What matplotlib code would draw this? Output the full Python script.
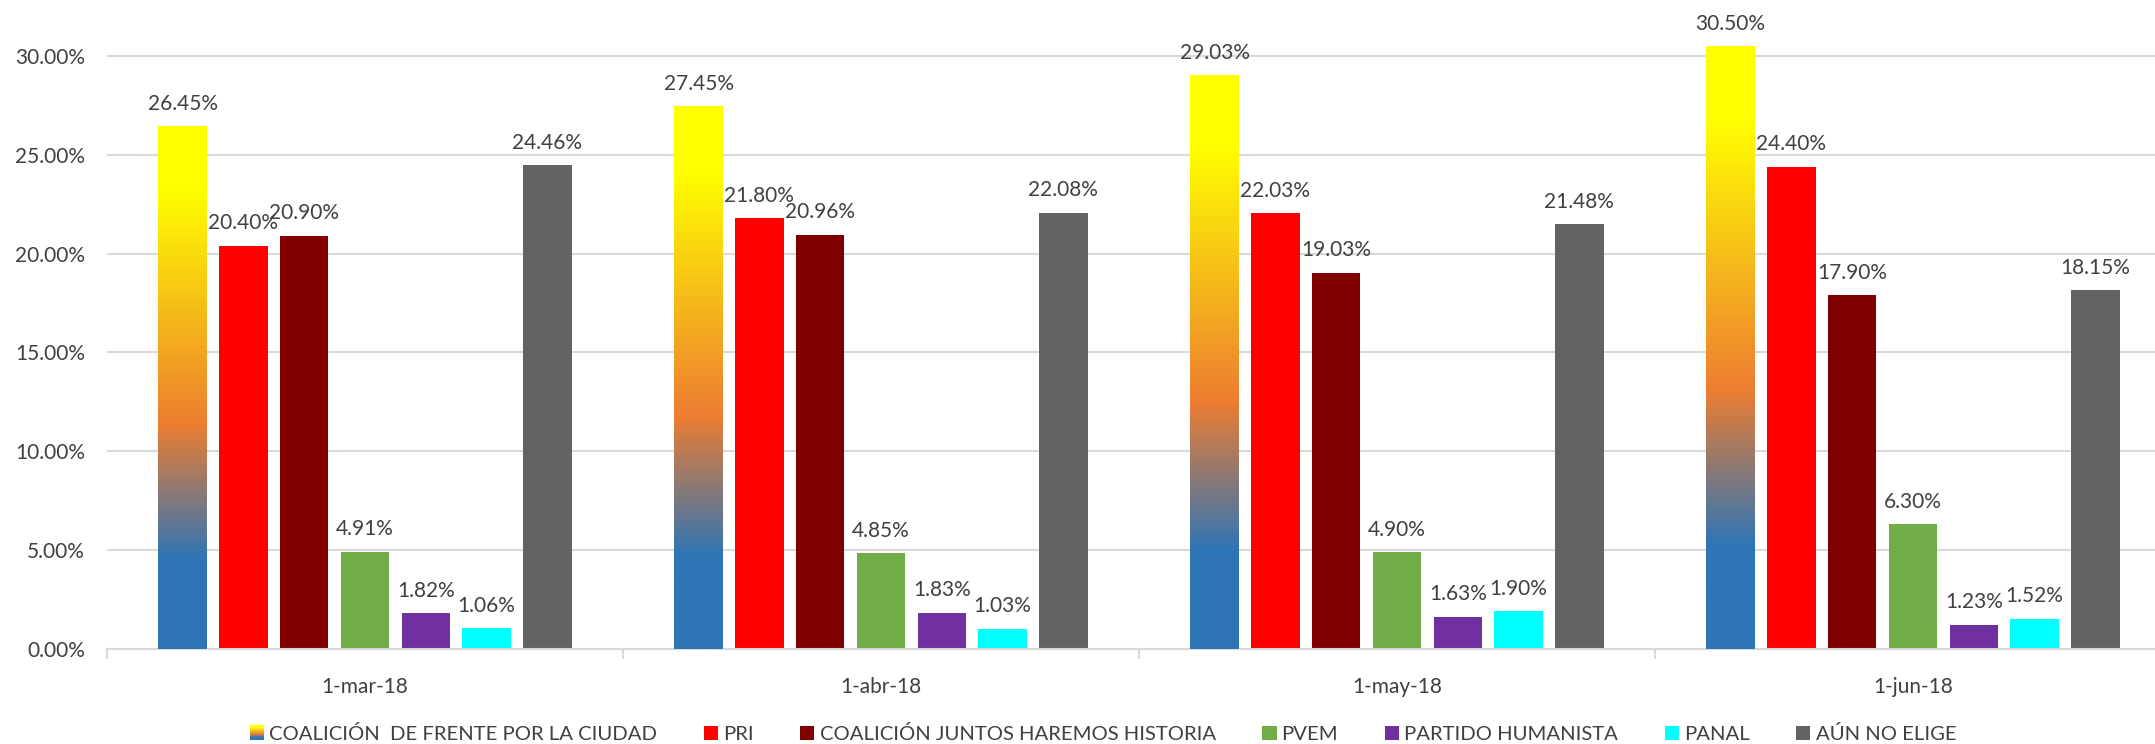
import numpy as np
import matplotlib
matplotlib.use("Agg")
import matplotlib.pyplot as plt
from matplotlib.colors import LinearSegmentedColormap
from matplotlib.legend_handler import HandlerBase
from matplotlib.patches import Rectangle
from matplotlib.ticker import FuncFormatter, FixedLocator

# ---- data ----
fechas = ["1-mar-18", "1-abr-18", "1-may-18", "1-jun-18"]
series = ["COALICIÓN  DE FRENTE POR LA CIUDAD", "PRI", "COALICIÓN JUNTOS HAREMOS HISTORIA",
          "PVEM", "PARTIDO HUMANISTA", "PANAL", "AÚN NO ELIGE"]
frente = [26.45, 27.45, 29.03, 30.50]
pri = [20.40, 21.80, 22.03, 24.40]
juntos = [20.90, 20.96, 19.03, 17.90]
pvem = [4.91, 4.85, 4.90, 6.30]
humanista = [1.82, 1.83, 1.63, 1.23]
panal = [1.06, 1.03, 1.90, 1.52]
no_elige = [24.46, 22.08, 21.48, 18.15]
yticks = [0, 5, 10, 15, 20, 25, 30]

values = [frente, pri, juntos, pvem, humanista, panal, no_elige]
colors = ["#FFFF00", "#FF0000", "#800000", "#70AD47", "#7030A0", "#00FFFF", "#636363"]

grad_cmap = LinearSegmentedColormap.from_list(
    "frente", [(0.0, "#2E75B6"), (0.17, "#2E75B6"), (0.43, "#ED7D31"),
               (0.88, "#FFFF00"), (1.0, "#FFFF00")])

plt.rcParams["font.family"] = ["Lato", "DejaVu Sans"]
TXT = "#404040"

W, H = 2155, 744
fig = plt.figure(figsize=(W / 100, H / 100), dpi=100)
ax_left, ax_bottom = 107, 744 - 649
grp = 516
ax = fig.add_axes([ax_left / W, ax_bottom / H, 4 * grp / W, 649 / H])

x = np.arange(len(fechas))
pitch = 0.1178
bw = 0.094
n = len(series)
containers = []
for i, (vals, c, name) in enumerate(zip(values, colors, series)):
    xs = x + (i - (n - 1) / 2) * pitch
    bars = ax.bar(xs, vals, width=bw, color=c, label=name, zorder=2, linewidth=0)
    containers.append(bars)
    for xx, v in zip(xs, vals):
        ax.annotate(f"{v:.2f}%", (xx, v), xytext=(0, 9), textcoords="offset points",
                    ha="center", va="bottom", fontsize=15, color=TXT, zorder=4)

# gradient fill for first series
grad = np.linspace(0, 1, 256).reshape(-1, 1)
for p in containers[0].patches:
    x0, y0 = p.get_x(), p.get_y()
    w, h = p.get_width(), p.get_height()
    im = ax.imshow(grad, cmap=grad_cmap, extent=[x0, x0 + w, y0, y0 + h],
                   origin="lower", aspect="auto", zorder=3, interpolation="bilinear")
    im.set_clip_path(p)
ax.set_aspect("auto")

ax.set_xlim(-0.5, 3.5)
ax.set_ylim(0, 32.83)
ax.yaxis.set_major_locator(FixedLocator(yticks))
ax.yaxis.set_major_formatter(FuncFormatter(lambda v, _: f"{v:.2f}%"))
ax.grid(axis="y", color="#D9D9D9", linewidth=1.5, zorder=0)
ax.set_axisbelow(True)
for s in ["top", "right", "left"]:
    ax.spines[s].set_visible(False)
ax.spines["bottom"].set_color("#D9D9D9")
ax.spines["bottom"].set_linewidth(1.5)
ax.tick_params(axis="y", length=0, pad=16, labelsize=15, labelcolor=TXT)
ax.set_xticks(x)
ax.set_xticklabels(fechas)
ax.set_xticks(np.arange(-0.5, 4.0, 1.0), minor=True)
ax.tick_params(axis="x", which="major", length=0, pad=20, labelsize=15, labelcolor=TXT)
ax.tick_params(axis="x", which="minor", length=7, width=1.5, color="#D9D9D9")


class HandlerGradient(HandlerBase):
    def create_artists(self, legend, orig_handle, xdescent, ydescent, width, height,
                       fontsize, trans):
        arts = []
        N = 20
        for k in range(N):
            r = Rectangle((-xdescent, -ydescent + height * k / N), width, height / N + 0.3,
                          facecolor=grad_cmap((k + 0.5) / N), edgecolor="none",
                          transform=trans)
            arts.append(r)
        return arts


handles = [c.patches[0] for c in containers]
hmap = {handles[0]: HandlerGradient()}
leg = fig.legend(handles, series, loc="center", ncol=7,
                 bbox_to_anchor=(1103 / W, 1 - 734 / H), frameon=False,
                 fontsize=14.6, handlelength=0.7, handleheight=0.7,
                 handletextpad=0.25, columnspacing=2.3, handler_map=hmap)
for t in leg.get_texts():
    t.set_color(TXT)

fig.savefig("out.png", dpi=100)
